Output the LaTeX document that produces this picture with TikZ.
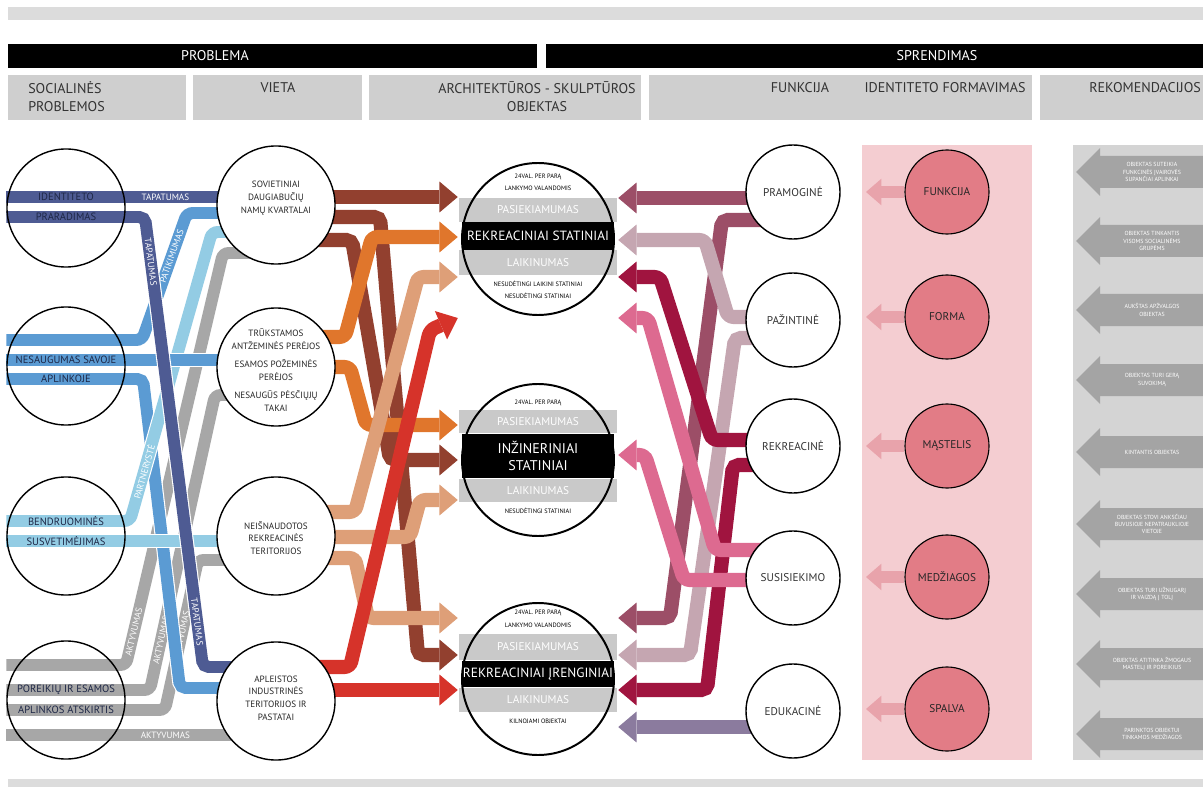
\documentclass[tikz,border=0pt]{standalone}
\usepackage{fontspec}
\setmainfont{PT Sans}
\usetikzlibrary{arrows.meta,backgrounds}

\definecolor{bargray}{HTML}{DCDCDC}
\definecolor{hdrgray}{HTML}{CFCFCF}
\definecolor{navyband}{HTML}{4E5B93}
\definecolor{midblue}{HTML}{5B9BD3}
\definecolor{skyblue}{HTML}{93CCE4}
\definecolor{ashgray}{HTML}{A7A7A7}
\definecolor{rust}{HTML}{92402F}
\definecolor{amber}{HTML}{E0762C}
\definecolor{sand}{HTML}{DE9F78}
\definecolor{brick}{HTML}{D6332A}
\definecolor{mauve}{HTML}{9C4E67}
\definecolor{lilac}{HTML}{C5A6B1}
\definecolor{wine}{HTML}{A0143F}
\definecolor{rosy}{HTML}{DD6A90}
\definecolor{plum}{HTML}{8B7B9E}
\definecolor{blush}{HTML}{F4CDD1}
\definecolor{blusharrow}{HTML}{E8A3AB}
\definecolor{coral}{HTML}{E27C86}
\definecolor{recgray}{HTML}{D4D4D4}
\definecolor{recarrow}{HTML}{A4A4A4}
\definecolor{stripgray}{HTML}{C9C9C9}
\definecolor{inkblue}{HTML}{1E2746}

\begin{document}
\begin{tikzpicture}[x=0.025cm,y=-0.025cm,
 band/.style={draw=white,line width=0.8pt,double=#1,double distance=8.5pt,rounded corners=4pt},
 flow/.style={draw=#1,line width=10pt,rounded corners=4pt,-{Triangle[length=13pt,width=22pt,line width=0pt]}},
 pinkarr/.style={draw=blusharrow,line width=8pt,-{Triangle[length=11pt,width=19pt,line width=0pt]}},
 tag/.style={text=white,font=\fontsize{6.5}{7}\selectfont,inner sep=0pt},
 hdr/.style={text=black!80,font=\fontsize{10}{12.8}\selectfont,inner sep=0pt},
 issue/.style={circle,draw,line width=1pt,minimum size=2.95cm},
 issuetxt/.style={text=inkblue,font=\fontsize{7.5}{8}\selectfont,inner sep=0pt},
 place/.style={circle,draw,line width=1pt,fill=white,minimum size=2.95cm},
 placetxt/.style={align=center,text=black!85,font=\fontsize{6.5}{9}\selectfont,inner sep=0pt},
 hub/.style={circle,fill=white,minimum size=3.8cm,outer sep=3pt},
 strip/.style={minimum width=3.925cm,inner sep=0pt,text=white,font=\fontsize{8}{9}\selectfont},
 note/.style={font=\fontsize{4.5}{5}\selectfont,inner sep=0pt},
 role/.style={circle,draw,line width=1pt,fill=white,minimum size=2.35cm,text=black!80,font=\fontsize{8}{9}\selectfont},
 trait/.style={circle,draw,line width=0.8pt,fill=coral,minimum size=2.1cm,text=black!85,font=\fontsize{8}{9}\selectfont},
 rec/.style={text=white,align=center,font=\fontsize{4.2}{5.2}\selectfont,inner sep=0pt}]
\useasboundingbox (0,0) rectangle (1203,787);
% header
\fill[bargray] (8,7) rectangle (1203,20);
\fill[black] (8,44) rectangle (537,68);
\fill[black] (546,44) rectangle (1203,68);
\node[hdr,text=white] (prob) at (215,56) {PROBLEMA};
\node[hdr,text=white] (sol) at (937,56) {SPRENDIMAS};
\fill[hdrgray] (8,75) rectangle (186,120);
\fill[hdrgray] (193,75) rectangle (362,120);
\fill[hdrgray] (369,75) rectangle (641,120);
\fill[hdrgray] (649,75) rectangle (1032,120);
\fill[hdrgray] (1040,75) rectangle (1203,120);
\node[hdr,align=left,anchor=west] (hsoc) at (28,97) {SOCIALINĖS\\PROBLEMOS};
\node[hdr] (hvie) at (278,88) {VIETA};
\node[hdr,align=center] (harc) at (537,97) {ARCHITEKTŪROS - SKULPTŪROS\\OBJEKTAS};
\node[hdr] (hfun) at (800,88) {FUNKCIJA};
\node[hdr] (hide) at (945,88) {IDENTITETO FORMAVIMAS};
\node[hdr,anchor=west] (hrec) at (1089,88) {REKOMENDACIJOS};
\fill[bargray] (8,779) rectangle (1203,787);
\fill[blush] (862,145) rectangle (1032,760);
\fill[recgray] (1073,145) rectangle (1203,760);

% social problems
\node[issue] (ip) at (66,208) {};
\node[issue] (ns) at (66,366) {};
\node[issue] (bs) at (66,536) {};
\node[issue] (pa) at (66,700) {};
\node[issuetxt] (ip1) at (66,197) {IDENTITETO};
\node[issuetxt] (ip2) at (66,217) {PRARADIMAS};
\node[issuetxt] (ns1) at (66,360) {NESAUGUMAS SAVOJE};
\node[issuetxt] (ns2) at (66,379) {APLINKOJE};
\node[issuetxt] (bs1) at (66,521) {BENDRUOMINĖS};
\node[issuetxt] (bs2) at (66,541) {SUSVETIMĖJIMAS};
\node[issuetxt] (pa1) at (66,690) {POREIKIŲ IR ESAMOS};
\node[issuetxt] (pa2) at (66,710) {APLINKOS ATSKIRTIS};

% places
\node[place] (sv) at (276,205) {};
\node[place] (tr) at (276,367) {};
\node[place] (ne) at (276,536) {};
\node[place] (ap) at (276,701) {};
\node[placetxt] (svt) at (276,198) {SOVIETINIAI\\DAUGIABUČIŲ\\NAMŲ KVARTALAI};
\node[placetxt] (trt) at (276,370) {TRŪKSTAMOS\\ANTŽEMINĖS PERĖJOS\\[4pt]ESAMOS POŽEMINĖS\\PERĖJOS\\[4pt]NESAUGŪS PĖSČIŲJŲ\\TAKAI};
\node[placetxt] (net) at (276,538) {NEIŠNAUDOTOS\\REKREACINĖS\\TERITORIJOS};
\node[placetxt] (apt) at (276,698) {APLEISTOS\\INDUSTRINĖS\\TERITORIJOS IR\\PASTATAI};

% objects
\node[hub] (rs) at (538,239) {};
\node[hub] (is) at (538,460) {};
\node[hub] (ri) at (538,679) {};
\node[strip,fill=stripgray,minimum height=0.6cm] (rsa) at (538,210) {PASIEKIAMUMAS};
\node[strip,fill=black,minimum width=3.8cm,minimum height=0.7cm,font=\fontsize{9.5}{10}\selectfont] (rsb) at (538,236) {REKREACINIAI STATINIAI};
\node[strip,fill=stripgray,minimum height=0.625cm] (rsc) at (538,262.5) {LAIKINUMAS};
\node[note] (rsn1) at (538,177) {24VAL. PER PARĄ};
\node[note] (rsn2) at (538,188) {LANKYMO VALANDOMIS};
\node[note] (rsn3) at (538,284) {NESUDĖTINGI LAIKINI STATINIAI};
\node[note] (rsn4) at (538,296) {NESUDĖTINGI STATINIAI};
\draw[line width=1.4pt] (rs.center) circle[radius=76];
\node[strip,fill=stripgray,minimum height=0.575cm] (isa) at (538,421.5) {PASIEKIAMUMAS};
\node[strip,fill=black,minimum width=3.775cm,minimum height=1.1cm,align=center,font=\fontsize{10}{12}\selectfont] (isb) at (538,456) {INŽINERINIAI\\STATINIAI};
\node[strip,fill=stripgray,minimum height=0.575cm] (isc) at (538,490.5) {LAIKINUMAS};
\node[note] (isn1) at (538,403) {24VAL. PER PARĄ};
\node[note] (isn2) at (538,511) {NESUDĖTINGI STATINIAI};
\draw[line width=1.4pt] (is.center) circle[radius=76];
\node[strip,fill=stripgray,minimum height=0.65cm] (ria) at (538,647) {PASIEKIAMUMAS};
\node[strip,fill=black,minimum width=3.8cm,minimum height=0.65cm,font=\fontsize{9.5}{10}\selectfont] (rib) at (538,674) {REKREACINIAI ĮRENGINIAI};
\node[strip,fill=stripgray,minimum height=0.6cm] (ric) at (538,700) {LAIKINUMAS};
\node[note] (rin1) at (538,613) {24VAL. PER PARĄ};
\node[note] (rin2) at (538,625) {LANKYMO VALANDOMIS};
\node[note] (rin3) at (538,721) {KILNOJAMI OBJEKTAI};
\draw[line width=1.4pt] (ri.center) circle[radius=76];

% functions
\node[role] (pr) at (793,192) {PRAMOGINĖ};
\node[role] (pz) at (793,320) {PAŽINTINĖ};
\node[role] (re) at (793,446) {REKREACINĖ};
\node[role] (su) at (793,578) {SUSISIEKIMO};
\node[role] (ed) at (793,711) {EDUKACINĖ};

% identity
\node[trait] (fu) at (947,192) {FUNKCIJA};
\node[trait] (fo) at (947,317) {FORMA};
\node[trait] (ma) at (947,446) {MĄSTELIS};
\node[trait] (me) at (947,577) {MEDŽIAGOS};
\node[trait] (sp) at (947,709) {SPALVA};
\draw[pinkarr] (fu) -- (fu -| 866,0);
\draw[pinkarr] (fo) -- (fo -| 866,0);
\draw[pinkarr] (ma) -- (ma -| 866,0);
\draw[pinkarr] (me) -- (me -| 866,0);
\draw[pinkarr] (sp) -- (sp -| 866,0);

% recommendations
\foreach \yy/\txt [count=\k] in {172/{OBJEKTAS SUTEIKIA\\FUNKCINĖS ĮVAIROVĖS\\SUPANČIAI APLINKAI},
  241/{OBJEKTAS TINKANTIS\\VISOMS SOCIALINĖMS\\GRUPĖMS},
  310/{AUKŠTAS APŽVALGOS\\OBJEKTAS},
  380/{OBJEKTAS TURI GERĄ\\SUVOKIMĄ},
  452/{KINTANTIS OBJEKTAS},
  524/{OBJEKTAS STOVI ANKSČIAU\\BUVUSIOJE NEPATRAUKLIOJE\\VIETOJE},
  594/{OBJEKTAS TURI UŽNUGARĮ\\IR VAIZDĄ Į TOLĮ},
  664/{OBJEKTAS ATITINKA ŽMOGAUS\\MASTELĮ IR POREIKIUS},
  734/{PARINKTOS OBJEKTUI\\TINKAMOS MEDŽIAGOS}}{
  \fill[recarrow] (1076,\yy) -- (1100,\yy-24) -- (1100,\yy-16) -- (1203,\yy-16)
    -- (1203,\yy+16) -- (1100,\yy+16) -- (1100,\yy+24) -- cycle;
  \node[rec] (rec\k) at (1152,\yy) {\txt};
}

\begin{scope}[on background layer]
% problems -> places
\draw[band=ashgray] (pa.west |- 0,665) -- (126,665) -- (223,253) node[tag,sloped,pos=0.08]{AKTYVUMAS} -- (sv.center |- 0,253);
\draw[band=ashgray] (pa.west |- 0,690) -- (150,690) -- (215,395) node[tag,sloped,pos=0.17]{AKTYVUMAS} -- (tr.center |- 0,395);
\draw[band=ashgray] (pa.west |- 0,710) -- (165,710) -- (198,560) node[tag,sloped,pos=0.5]{AKTYVUMAS} -- (ne.center |- 0,560);
\draw[band=ashgray] (pa.west |- 0,735) -- (ap.center |- 0,735) node[tag,pos=0.59]{AKTYVUMAS};
\draw[band=midblue] (ns.west |- 0,379) -- (143,379) -- (180,688) -- (ap.center |- 0,688);
\draw[band=skyblue] (bs.west |- 0,521) -- (130,521) -- (212,232) node[tag,sloped,pos=0.17]{PARTNERYSTĖ} -- (sv.center |- 0,232);
\draw[band=skyblue] (bs.west |- 0,541) -- (ne.center |- 0,541);
\draw[band=midblue] (ns.west |- 0,340) -- (142,340) -- (187,213) node[tag,sloped,pos=0.66]{PATIKIMUMAS} -- (sv.center |- 0,213);
\draw[band=midblue] (ns.west |- 0,360) -- (tr.center |- 0,360);
\draw[band=navyband] (ip.west |- 0,197) -- (sv.center |- 0,197) node[tag,pos=0.59]{TAPATUMAS};
\draw[band=navyband] (ip.west |- 0,217) -- (145,217) -- (203,667) node[tag,sloped,pos=0.1]{TAPATUMAS} node[tag,sloped,pos=0.9]{TAPATUMAS} -- (ap.center |- 0,667);
% places -> objects
\draw[flow=rust] (sv.center |- 0,197) -- (rs.west |- 0,197);
\draw[flow=rust] (sv.center |- 0,217) -- (380,217) -- (418,655) -- (ri.west |- 0,655);
\draw[flow=rust] (sv.center |- 0,240) -- (352,240) -- (390,460) -- (is.west |- 0,460);
\draw[flow=amber] (tr.center |- 0,337) -- (345,337) -- (372,237) -- (rs.west |- 0,237);
\draw[flow=amber] (tr.center |- 0,367) -- (350,367) -- (366,425) -- (is.west |- 0,425);
\draw[flow=sand] (ne.center |- 0,512) -- (355,512) -- (418,277) -- (rs.west |- 0,277);
\draw[flow=sand] (ne.center |- 0,537) -- (410,537) -- (420,500) -- (is.west |- 0,500);
\draw[flow=sand] (ne.center |- 0,558) -- (355,558) -- (368,618) -- (ri.west |- 0,618);
\draw[flow=brick] (ap.center |- 0,667) -- (350,667) -- (430,330) -- (rs.west |- 0,318);
\draw[flow=brick] (ap.center |- 0,690) -- (ri.west |- 0,690);
% functions -> objects
\draw[flow=mauve] (pr.center |- 0,198) -- (rs.east |- 0,198);
\draw[flow=mauve] (pr.center |- 0,220) -- (722,220) -- (670,618) -- (ri.east |- 0,618);
\draw[flow=lilac] (pz.center |- 0,317) -- (728,317) -- (705,240) -- (rs.east |- 0,240);
\draw[flow=lilac] (pz.center |- 0,338) -- (735,338) -- (690,655) -- (ri.east |- 0,655);
\draw[flow=wine] (re.center |- 0,440) -- (712,440) -- (660,277) -- (rs.east |- 0,277);
\draw[flow=wine] (re.center |- 0,465) -- (733,465) -- (707,690) -- (ri.east |- 0,690);
\draw[flow=rosy] (su.center |- 0,550) -- (715,550) -- (648,318) -- (rs.east |- 0,318);
\draw[flow=rosy] (su.center |- 0,580) -- (684,580) -- (645,455) -- (is.east |- 0,455);
\draw[flow=plum] (ed.center |- 0,727) -- (ri.east |- 0,727);
\end{scope}
\end{tikzpicture}
\end{document}
